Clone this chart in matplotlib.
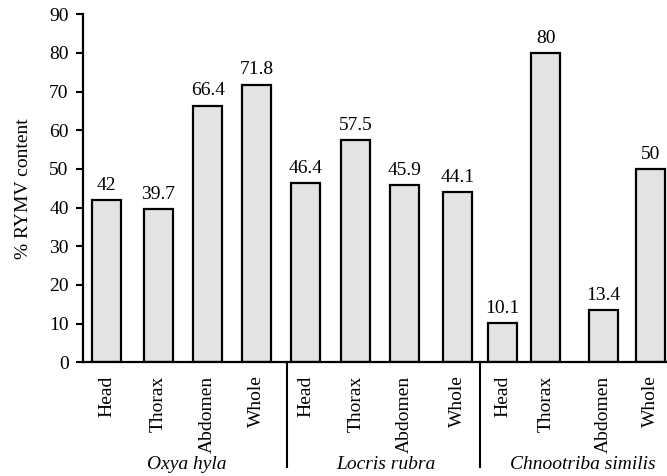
import matplotlib
matplotlib.use("Agg")
import matplotlib.pyplot as plt
import matplotlib.transforms as mtransforms

# Data
parts = ["Head", "Thorax", "Abdomen", "Whole",
         "Head", "Thorax", "Abdomen", "Whole",
         "Head", "Thorax", "Abdomen", "Whole"]
values = [42, 39.7, 66.4, 71.8,
          46.4, 57.5, 45.9, 44.1,
          10.1, 80, 13.4, 50]
value_labels = ["42", "39.7", "66.4", "71.8",
                "46.4", "57.5", "45.9", "44.1",
                "10.1", "80", "13.4", "50"]
species = ["Oxya hyla", "Locris rubra", "Chnootriba similis"]
yticks = [0, 10, 20, 30, 40, 50, 60, 70, 80, 90]

# Layout (slot positions)
xpos = [0.48, 1.53, 2.54, 3.54, 4.54, 5.56, 6.55, 7.63, 8.56, 9.44, 10.62, 11.58]
species_x = [2.11, 6.17, 10.19]
separators = [4.16, 8.09]
bar_w = 0.59

plt.rcParams['font.family'] = ['Liberation Serif', 'DejaVu Serif']
fs = 14

W, H = 667, 476
fig = plt.figure(figsize=(W / 100, H / 100), dpi=100)
ax_left, ax_bottom_px, ax_top_px = 83.3, 362.3, 14.3
ax = fig.add_axes([ax_left / W, (H - ax_bottom_px) / H,
                   (W - ax_left) / W, (ax_bottom_px - ax_top_px) / H])

ax.bar(xpos, values, width=bar_w, color="#e3e3e3", edgecolor="black",
       linewidth=1.6, zorder=2)
for x, v, lab in zip(xpos, values, value_labels):
    ax.annotate(lab, (x, v), xytext=(0, 4.5), textcoords="offset points",
                ha="center", va="bottom", fontsize=fs)

ax.set_xlim(0, 11.91)
ax.set_ylim(0, 90)
ax.set_yticks(yticks)
ax.set_yticklabels([str(t) for t in yticks], fontsize=fs)
ax.tick_params(axis="y", direction="out", length=5, width=1.5, pad=5.5)
ax.set_xticks(xpos)
ax.set_xticklabels(parts, rotation=90, fontsize=fs, va="top", ha="center")
ax.tick_params(axis="x", length=0, pad=9.5)

for s in ["top", "right"]:
    ax.spines[s].set_visible(False)
for s in ["left", "bottom"]:
    ax.spines[s].set_linewidth(1.6)

ax.set_ylabel("% RYMV content", fontsize=fs)
ax.yaxis.set_label_coords(-0.088, 0.5)

trans = mtransforms.blended_transform_factory(ax.transData, ax.transAxes)
for sx in separators:
    ax.plot([sx, sx], [0, -0.30], transform=trans, color="black",
            linewidth=1.5, clip_on=False)
for x, name in zip(species_x, species):
    ax.text(x, -0.293, name, transform=trans, ha="center", va="center",
            fontsize=fs, style="italic")

fig.savefig("out.png", dpi=100)
